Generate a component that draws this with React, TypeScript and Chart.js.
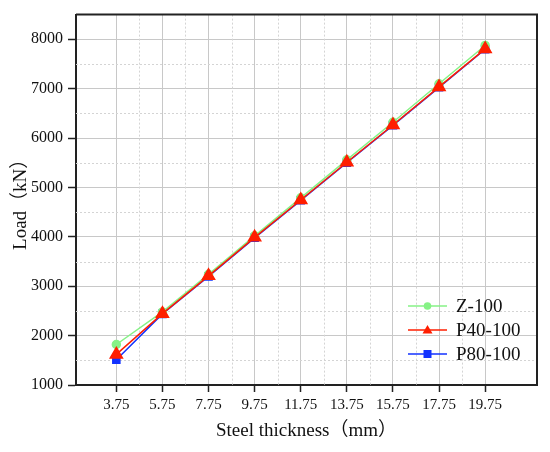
import React, { useEffect, useRef } from 'react';
import { Chart, registerables } from 'chart.js';

Chart.register(...registerables);

// steel thickness (mm) and load (kN)
const thickness = [3.75, 5.75, 7.75, 9.75, 11.75, 13.75, 15.75, 17.75, 19.75];
const z100 = [1820, 2480, 3240, 4020, 4790, 5560, 6320, 7100, 7875];
const p40100 = [1620, 2445, 3210, 3990, 4746, 5510, 6265, 7035, 7805];
const p80100 = [1510, 2440, 3200, 3980, 4740, 5500, 6258, 7028, 7798];

const yTicks = [1000, 2000, 3000, 4000, 5000, 6000, 7000, 8000];
const xMinor = [4.75, 6.75, 8.75, 10.75, 12.75, 14.75, 16.75, 18.75];
const yMinor = [1500, 2500, 3500, 4500, 5500, 6500, 7500];

const GREEN = '#86f286';
const RED = '#ff1e00';
const BLUE = '#1232ff';
const SERIF = '"Liberation Serif", "Times New Roman", "Noto Sans CJK SC", serif';

const minorGrid = {
  id: 'minorGrid',
  beforeDatasetsDraw(chart: any) {
    const { ctx, chartArea } = chart;
    const xs = chart.scales.x;
    const ys = chart.scales.y;
    ctx.save();
    ctx.strokeStyle = '#d4d4d4';
    ctx.lineWidth = 1;
    ctx.setLineDash([2, 2]);
    xMinor.forEach((v) => {
      const px = Math.round(xs.getPixelForValue(v)) + 0.5;
      ctx.beginPath();
      ctx.moveTo(px, chartArea.top);
      ctx.lineTo(px, chartArea.bottom);
      ctx.stroke();
    });
    yMinor.forEach((v) => {
      const py = Math.round(ys.getPixelForValue(v)) + 0.5;
      ctx.beginPath();
      ctx.moveTo(chartArea.left, py);
      ctx.lineTo(chartArea.right, py);
      ctx.stroke();
    });
    ctx.restore();
  },
};

const frameAndLegend = {
  id: 'frameAndLegend',
  afterDraw(chart: any) {
    const { ctx, chartArea } = chart;
    ctx.save();
    // top and right frame
    ctx.strokeStyle = '#222';
    ctx.lineWidth = 2;
    ctx.setLineDash([]);
    ctx.beginPath();
    ctx.moveTo(chartArea.left, chartArea.top);
    ctx.lineTo(chartArea.right, chartArea.top);
    ctx.lineTo(chartArea.right, chartArea.bottom);
    ctx.stroke();

    // legend inside the plot, line + marker
    const items = [
      { label: 'Z-100', color: GREEN, shape: 'circle' },
      { label: 'P40-100', color: RED, shape: 'triangle' },
      { label: 'P80-100', color: BLUE, shape: 'rect' },
    ];
    const x0 = chartArea.right - 129;
    const x1 = x0 + 39;
    const mx = (x0 + x1) / 2;
    items.forEach((it, i) => {
      const y = chartArea.bottom - 79 + i * 24;
      ctx.strokeStyle = it.color;
      ctx.fillStyle = it.color;
      ctx.lineWidth = 1.5;
      ctx.beginPath();
      ctx.moveTo(x0, y);
      ctx.lineTo(x1, y);
      ctx.stroke();
      ctx.beginPath();
      if (it.shape === 'circle') {
        ctx.arc(mx, y, 3.8, 0, Math.PI * 2);
      } else if (it.shape === 'triangle') {
        ctx.moveTo(mx, y - 5);
        ctx.lineTo(mx + 5, y + 3.5);
        ctx.lineTo(mx - 5, y + 3.5);
        ctx.closePath();
      } else {
        ctx.rect(mx - 4, y - 4, 8, 8);
      }
      ctx.fill();
      ctx.fillStyle = '#111';
      ctx.font = '19px ' + SERIF;
      ctx.textAlign = 'left';
      ctx.textBaseline = 'middle';
      ctx.fillText(it.label, x1 + 9, y + 1);
    });
    ctx.restore();
  },
};

export default function App() {
  const chartRef = useRef<HTMLCanvasElement>(null);
  const chartInstance = useRef<Chart>();

  useEffect(() => {
    if (!chartRef.current) return;
    const ctx = chartRef.current.getContext('2d');
    if (!ctx) return;
    if (chartInstance.current) chartInstance.current.destroy();

    const toPoints = (arr: number[]) => arr.map((v, i) => ({ x: thickness[i], y: v }));

    chartInstance.current = new Chart(ctx, {
      type: 'line',
      data: {
        datasets: [
          {
            label: 'Z-100',
            data: toPoints(z100),
            borderColor: GREEN,
            backgroundColor: GREEN,
            pointStyle: 'circle',
            pointRadius: 4,
            borderWidth: 1.5,
            order: 1,
          },
          {
            label: 'P40-100',
            data: toPoints(p40100),
            borderColor: RED,
            backgroundColor: RED,
            pointStyle: 'triangle',
            pointRadius: 7,
            borderWidth: 1.5,
            order: 0,
          },
          {
            label: 'P80-100',
            data: toPoints(p80100),
            borderColor: BLUE,
            backgroundColor: BLUE,
            pointStyle: 'rect',
            pointRadius: 5,
            borderWidth: 1.5,
            order: 2,
          },
        ],
      },
      options: {
        responsive: true,
        maintainAspectRatio: false,
        animation: false,
        layout: { padding: { top: 14, right: 13, left: 0, bottom: 0 } },
        plugins: {
          legend: { display: false },
          tooltip: { enabled: false },
        },
        elements: { point: { borderWidth: 0 }, line: { tension: 0 } },
        scales: {
          x: {
            type: 'linear',
            min: 2,
            max: 22,
            afterBuildTicks: (scale: any) => {
              scale.ticks = thickness.map((v) => ({ value: v }));
            },
            afterFit: (scale: any) => {
              scale.height = 67;
            },
            ticks: {
              color: '#111',
              padding: 4,
              font: { family: SERIF, size: 15 },
              callback: (v: any) => Number(v).toFixed(2),
              maxRotation: 0,
            },
            grid: {
              color: '#c8c8c8',
              lineWidth: 1,
              drawTicks: true,
              tickLength: 7,
              tickColor: '#222',
              tickWidth: 1.5,
            },
            border: { color: '#222', width: 2 },
            title: {
              display: true,
              text: 'Steel thickness（mm）',
              color: '#111',
              font: { family: SERIF, size: 19 },
              padding: { top: 10, bottom: 10 },
            },
          },
          y: {
            type: 'linear',
            min: 1000,
            max: 8500,
            afterBuildTicks: (scale: any) => {
              scale.ticks = yTicks.map((v) => ({ value: v }));
            },
            afterFit: (scale: any) => {
              scale.width = 76;
            },
            ticks: {
              color: '#111',
              padding: 5,
              font: { family: SERIF, size: 16 },
              callback: (v: any) => String(v),
            },
            grid: {
              color: '#c8c8c8',
              lineWidth: 1,
              drawTicks: true,
              tickLength: 8,
              tickColor: '#222',
              tickWidth: 1.5,
            },
            border: { color: '#222', width: 2 },
            title: {
              display: true,
              text: 'Load（kN）',
              color: '#111',
              font: { family: SERIF, size: 19 },
              padding: { top: 10, bottom: 10 },
            },
          },
        },
      },
      plugins: [minorGrid, frameAndLegend],
    });

    return () => {
      if (chartInstance.current) {
        chartInstance.current.destroy();
        chartInstance.current = undefined;
      }
    };
  }, []);

  return (
    <div style={{ position: 'absolute', left: 0, top: 0, width: 550, height: 452, background: '#fff' }}>
      <canvas ref={chartRef}></canvas>
    </div>
  );
}
